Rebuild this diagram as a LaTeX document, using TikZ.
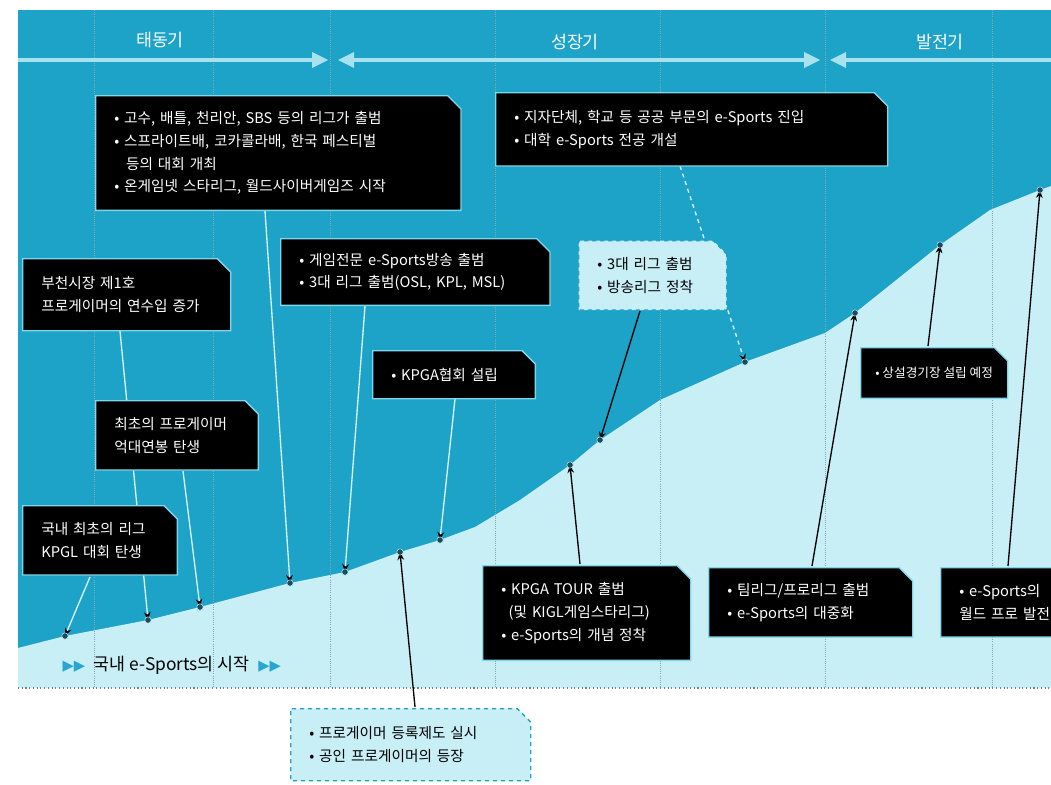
\documentclass[tikz,border=0pt]{standalone}
\usepackage{fontspec}
\setmainfont{Noto Sans CJK KR}
\newfontfamily\symfont{DejaVu Sans}
\usetikzlibrary{shapes.misc,arrows.meta}
\definecolor{darkcyan}{HTML}{1CA3C7}
\definecolor{lightcyan}{HTML}{C8EEF6}
\definecolor{phasecol}{HTML}{A8E2EE}
\definecolor{bordercol}{HTML}{7FD8EA}
\definecolor{gridcol}{HTML}{2B6F80}
\definecolor{dotcol}{HTML}{1D4B58}
\definecolor{tricol}{HTML}{27A6D2}
\tikzset{
  basebox/.style={chamfered rectangle, chamfered rectangle corners=north east,
    chamfered rectangle xsep=5pt, chamfered rectangle ysep=5pt,
    anchor=north west, align=left, inner xsep=9pt, inner ysep=4pt,
    font=\fontsize{11}{17}\selectfont},
  blackbox/.style={basebox, fill=black, draw=bordercol, line width=1pt, text=white},
  lightbox/.style={basebox, fill=lightcyan, draw=darkcyan, dashed, line width=1pt, text=black},
  phase/.style={font=\fontsize{13}{15}\selectfont, text=white},
  lightlink/.style={draw=white!85!cyan, line width=1pt, -{Stealth[length=6pt,width=5pt,black]}},
  darklink/.style={draw=black, line width=1pt, -{Stealth[length=6pt,width=5pt,black]}},
  phasearrow/.style={draw=phasecol, line width=2.5pt},
  ev/.style={fill=dotcol, draw=white!70!cyan, line width=0.4pt},
}
\begin{document}
\begin{tikzpicture}[x=0.75pt,y=-0.75pt]
\useasboundingbox (0,0) rectangle (1051,785);
\clip (0,0) rectangle (1051,785);
\fill[white] (0,0) rectangle (1051,785);
% regions
\fill[darkcyan] (18,10) rectangle (1051,688);
\fill[lightcyan] (18,648) -- (65,636) -- (148,620) -- (200,607) -- (290,583) -- (345,572)
  -- (400,552) -- (440,540) -- (475,527) -- (520,500) -- (570,465) -- (600,440)
  -- (660,400) -- (745,362) -- (825,333) -- (855,313) -- (940,245) -- (990,210)
  -- (1040,190) -- (1051,186) -- (1051,688) -- (18,688) -- cycle;
\draw[gray, dotted, line width=0.8pt] (18,688) -- (1051,688);
% grid
\foreach \gx in {94,213,330,495,660,825,992}
  \draw[gridcol!60, densely dotted, line width=0.6pt] (\gx,10) -- (\gx,688);
% phases
\draw[phasearrow] (18,60) -- (318,60);
\fill[phasecol] (328,60) -- (312,52) -- (312,68) -- cycle;
\fill[phasecol] (338,60) -- (354,52) -- (354,68) -- cycle;
\draw[phasearrow] (350,60) -- (806,60);
\fill[phasecol] (820,60) -- (804,52) -- (804,68) -- cycle;
\fill[phasecol] (830,60) -- (846,52) -- (846,68) -- cycle;
\draw[phasearrow] (842,60) -- (1051,60);
\node[phase] (p1) at (160,40) {태동기};
\node[phase] (p2) at (575,42) {성장기};
\node[phase] (p3) at (940,42) {발전기};
% event points
\coordinate (d1) at (65,636);
\coordinate (d2) at (148,620);
\coordinate (d3) at (200,607);
\coordinate (d4) at (290,583);
\coordinate (d5) at (345,572);
\coordinate (d6) at (400,552);
\coordinate (d7) at (440,540);
\coordinate (d8) at (570,465);
\coordinate (d9) at (600,440);
\coordinate (d10) at (745,362);
\coordinate (d11) at (855,313);
\coordinate (d12) at (940,245);
\coordinate (d13) at (1040,190);
% link anchors
\coordinate (a1) at (90,577);
\coordinate (a2) at (120,331);
\coordinate (a3) at (183,471);
\coordinate (a4) at (265,211);
\coordinate (a5) at (365,306);
\coordinate (a6) at (415,707);
\coordinate (a7) at (455,399);
\coordinate (a8) at (580,564);
\coordinate (a9) at (640,311);
\coordinate (a10) at (680,166);
\coordinate (a11) at (812,566);
\coordinate (a12) at (928,346);
\coordinate (a13) at (1008,566);
% links
\draw[lightlink] (a1) -- (d1);
\draw[lightlink] (a2) -- (d2);
\draw[lightlink] (a3) -- (d3);
\draw[lightlink] (a4) -- (d4);
\draw[lightlink] (a5) -- (d5);
\draw[darklink] (a6) -- (d6);
\draw[lightlink] (a7) -- (d7);
\draw[darklink] (a8) -- (d8);
\draw[darklink] (a9) -- (d9);
\draw[lightlink, dashed] (a10) -- (d10);
\draw[darklink] (a11) -- (d11);
\draw[darklink] (a12) -- (d12);
\draw[darklink] (a13) -- (d13);
\foreach \d in {d1,d2,d3,d4,d5,d6,d7,d8,d9,d10,d11,d12,d13}
  \filldraw[ev] (\d) circle (3.2);
% boxes
\node[blackbox, text width=246pt, minimum height=86pt] (A) at (95,95)
 {• 고수, 배틀, 천리안, SBS 등의 리그가 출범\\
  • 스프라이트배, 코카콜라배, 한국 페스티벌\\
  \hspace*{0.8em}등의 대회 개최\\
  • 온게임넷 스타리그, 월드사이버게임즈 시작};
\node[blackbox, text width=266pt, minimum height=55pt] (B) at (495,92)
 {• 지자단체, 학교 등 공공 부문의 e-Sports 진입\\
  • 대학 e-Sports 전공 개설};
\node[blackbox, text width=128pt, minimum height=54pt] (C) at (22,258)
 {부천시장 제1호\\
  프로게이머의 연수입 증가};
\node[blackbox, text width=174pt, minimum height=50pt] (D) at (280,238)
 {• 게임전문 e-Sports방송 출범\\
  • 3대 리그 출범(OSL, KPL, MSL)};
\node[lightbox, text width=83pt, minimum height=52pt] (E) at (578,240)
 {• 3대 리그 출범\\
  • 방송리그 정착};
\node[blackbox, text width=94pt, minimum height=36pt] (F) at (372,350)
 {• KPGA협회 설립};
\node[blackbox, text width=94pt, minimum height=52pt] (G) at (95,400)
 {최초의 프로게이머\\
  억대연봉 탄생};
\node[blackbox, text width=88pt, minimum height=52pt] (H) at (22,505)
 {국내 최초의 리그\\
  KPGL 대회 탄생};
\node[blackbox, text width=128pt, minimum height=71pt] (I) at (482,565)
 {• KPGA TOUR 출범\\
  \hspace*{0.5em}(및 KIGL게임스타리그)\\
  • e-Sports의 개념 정착};
\node[blackbox, text width=125pt, minimum height=52pt] (J) at (708,567)
 {• 팀리그/프로리그 출범\\
  • e-Sports의 대중화};
\node[blackbox, text width=110pt, minimum height=52pt] (K) at (940,567)
 {• e-Sports의\\
  월드 프로 발전};
\node[blackbox, inner xsep=6pt, minimum height=38pt, font=\fontsize{9.5}{14}\selectfont] (L) at (860,347)
 {• 상설경기장 설립 예정};
\node[lightbox, text width=152pt, minimum height=54pt] (M) at (290,708)
 {• 프로게이머 등록제도 실시\\
  • 공인 프로게이머의 등장};
% start label
\node[anchor=west, font=\fontsize{13}{15}\selectfont] (S) at (58,665)
 {{\symfont\color{tricol}\fontsize{11}{13}\selectfont ▶▶}\; 국내 e-Sports의 시작 \;{\symfont\color{tricol}\fontsize{11}{13}\selectfont ▶▶}};
\end{tikzpicture}
\end{document}
